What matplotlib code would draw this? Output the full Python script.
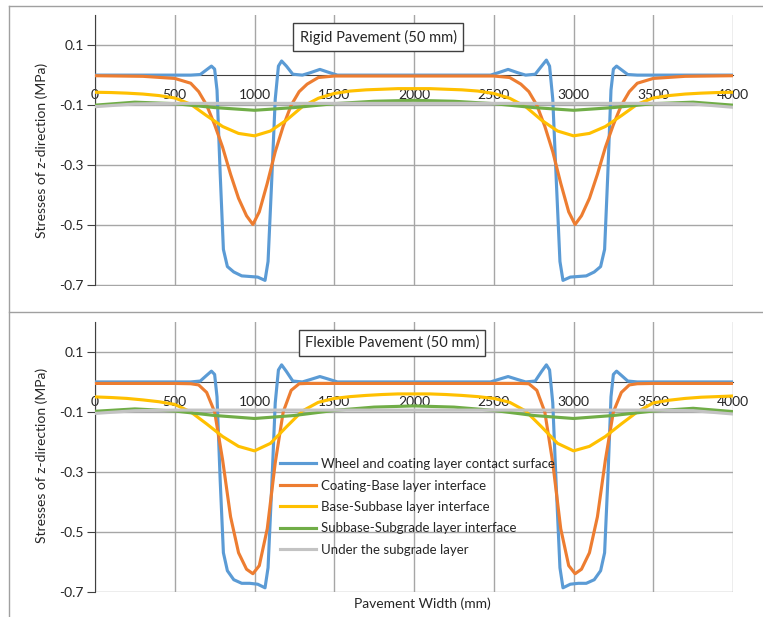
import matplotlib
matplotlib.use('Agg')
import matplotlib.pyplot as plt
from matplotlib.lines import Line2D

plt.rcParams['font.family'] = ['Lato', 'DejaVu Sans']

# pavement width positions (mm) and stresses (MPa)
x_blue = [0, 600, 660, 700, 730, 750, 765, 785, 805, 830, 870, 920, 970, 1020, 1066, 1085, 1108, 1130,
          1150, 1170, 1200, 1240, 1300, 1350, 1410, 1460, 1520, 2000, 2480, 2540, 2590, 2650, 2700, 2760,
          2800, 2830, 2850, 2870, 2892, 2915, 2934, 2980, 3030, 3080, 3130, 3170, 3195, 3215, 3235, 3250,
          3270, 3300, 3340, 3400, 4000]
rigid_blue = [0.0, 0.0, 0.002, 0.018, 0.03, 0.02, -0.05, -0.33, -0.58, -0.637, -0.655, -0.668, -0.67, -0.672,
              -0.683, -0.62, -0.35, -0.08, 0.03, 0.047, 0.03, 0.003, 0.0, 0.008, 0.019, 0.01, 0.0, 0.0,
              0.0, 0.01, 0.019, 0.008, 0.0, 0.003, 0.03, 0.05, 0.03, -0.08, -0.35, -0.62, -0.683, -0.672,
              -0.67, -0.668, -0.655, -0.637, -0.58, -0.33, -0.05, 0.02, 0.03, 0.018, 0.002, 0.0, 0.0]
flex_blue = [0.0, 0.0, 0.003, 0.022, 0.036, 0.025, -0.05, -0.33, -0.57, -0.63, -0.66, -0.672, -0.672, -0.675,
             -0.687, -0.62, -0.35, -0.07, 0.04, 0.057, 0.035, 0.003, 0.0, 0.008, 0.018, 0.01, 0.0, 0.0,
             0.0, 0.01, 0.018, 0.008, 0.0, 0.003, 0.035, 0.057, 0.04, -0.07, -0.35, -0.62, -0.687, -0.675,
             -0.672, -0.672, -0.66, -0.63, -0.57, -0.33, -0.05, 0.025, 0.036, 0.022, 0.003, 0.0, 0.0]

x_orange = [0, 300, 500, 600, 650, 700, 750, 800, 850, 900, 950, 990, 1030, 1080, 1130, 1180, 1230, 1280,
            1330, 1400, 1500, 2000, 2500, 2600, 2670, 2720, 2770, 2820, 2870, 2920, 2970, 3010, 3050, 3100,
            3150, 3200, 3250, 3300, 3350, 3400, 3500, 3700, 4000]
rigid_orange = [-0.002, -0.004, -0.011, -0.027, -0.055, -0.1, -0.165, -0.24, -0.33, -0.41, -0.468, -0.497,
                -0.455, -0.36, -0.255, -0.17, -0.1, -0.055, -0.03, -0.008, -0.003, -0.003,
                -0.003, -0.008, -0.03, -0.055, -0.1, -0.17, -0.255, -0.36, -0.455, -0.497, -0.468, -0.41,
                -0.33, -0.24, -0.165, -0.1, -0.055, -0.027, -0.011, -0.004, -0.002]
flex_orange = [-0.005, -0.005, -0.005, -0.006, -0.01, -0.035, -0.1, -0.26, -0.45, -0.57, -0.625, -0.64,
               -0.613, -0.49, -0.27, -0.1, -0.028, -0.006, -0.005, -0.005, -0.005, -0.005,
               -0.005, -0.005, -0.005, -0.006, -0.028, -0.1, -0.27, -0.49, -0.613, -0.64, -0.625, -0.57,
               -0.45, -0.26, -0.1, -0.035, -0.01, -0.006, -0.005, -0.005, -0.005]

x_yellow = [0, 100, 200, 300, 400, 500, 600, 700, 800, 900, 1000, 1100, 1200, 1300, 1400, 1500, 1600, 1700,
            1800, 1900, 2000, 2100, 2200, 2300, 2400, 2500, 2600, 2700, 2800, 2900, 3000, 3100, 3200, 3300,
            3400, 3500, 3600, 3700, 3800, 3900, 4000]
rigid_yellow = [-0.057, -0.058, -0.06, -0.063, -0.068, -0.076, -0.097, -0.135, -0.171, -0.194, -0.202,
                -0.186, -0.15, -0.105, -0.077, -0.061, -0.053, -0.049, -0.047, -0.045, -0.045,
                -0.045, -0.047, -0.049, -0.053, -0.061, -0.077, -0.105, -0.15, -0.186, -0.202,
                -0.194, -0.171, -0.135, -0.097, -0.076, -0.068, -0.063, -0.06, -0.058, -0.057]
flex_yellow = [-0.05, -0.052, -0.055, -0.06, -0.066, -0.075, -0.1, -0.14, -0.182, -0.215, -0.23,
               -0.205, -0.15, -0.097, -0.068, -0.055, -0.049, -0.045, -0.042, -0.04, -0.04,
               -0.04, -0.042, -0.045, -0.049, -0.055, -0.068, -0.097, -0.15, -0.205, -0.23,
               -0.215, -0.182, -0.14, -0.1, -0.07, -0.061, -0.055, -0.051, -0.049, -0.047]

x_green = [0, 250, 500, 750, 1000, 1250, 1500, 1750, 2000, 2250, 2500, 2750, 3000, 3250, 3500, 3750, 4000]
rigid_green = [-0.1, -0.09, -0.095, -0.108, -0.117, -0.108, -0.095, -0.087, -0.084, -0.087, -0.095, -0.108,
               -0.117, -0.108, -0.095, -0.09, -0.1]
flex_green = [-0.098, -0.09, -0.097, -0.112, -0.122, -0.112, -0.095, -0.084, -0.08, -0.084, -0.095, -0.112,
              -0.122, -0.112, -0.097, -0.088, -0.099]
rigid_gray = [-0.105, -0.096, -0.094, -0.094, -0.094, -0.094, -0.094, -0.094, -0.094, -0.094, -0.094, -0.094,
              -0.094, -0.094, -0.094, -0.096, -0.107]
flex_gray = [-0.105, -0.096, -0.094, -0.094, -0.094, -0.094, -0.094, -0.094, -0.094, -0.094, -0.094, -0.094,
             -0.094, -0.094, -0.094, -0.096, -0.107]

labels = ['Wheel and coating layer contact surface', 'Coating-Base layer interface',
          'Base-Subbase layer interface', 'Subbase-Subgrade layer interface', 'Under the subgrade layer']
colors = ['#5B9BD5', '#ED7D31', '#FFC000', '#70AD47', '#C3C3C3']
x_ticks = [0, 500, 1000, 1500, 2000, 2500, 3000, 3500, 4000]
y_ticks = [-0.7, -0.5, -0.3, -0.1, 0.1]
y_ticklabels = ['-0.7', '-0.5', '-0.3', '-0.1', '0.1']

W, H = 763, 617
fig = plt.figure(figsize=(W / 100, H / 100), dpi=100)


def panel(rect, series, title, title_xy):
  ax = fig.add_axes(rect)
  handles = []
  for (xs, ys), c, lab in zip(series, colors, labels):
    h, = ax.plot(xs, ys, color=c, lw=2.25, zorder=3, label=lab, solid_joinstyle='round')
    handles.append(h)
  ax.set_xlim(0, 4000)
  ax.set_ylim(-0.7, 0.2)
  ax.set_xticks(x_ticks)
  ax.set_xticklabels([str(t) for t in x_ticks])
  ax.set_yticks(y_ticks)
  ax.set_yticklabels(y_ticklabels)
  ax.grid(True, color='#A6A6A6', lw=1)
  ax.set_axisbelow(True)
  for s in ['top', 'right']:
    ax.spines[s].set_visible(False)
  ax.spines['bottom'].set_position(('data', 0))
  ax.spines['bottom'].set_color('#404040')
  ax.spines['left'].set_color('#404040')
  ax.tick_params(axis='x', length=0, pad=10, labelsize=10, labelcolor='#262626')
  ax.tick_params(axis='y', length=6, direction='out', color='#404040', pad=2, labelsize=10,
                 labelcolor='#262626')
  fig.text(title_xy[0] / W, 1 - title_xy[1] / H, title, ha='center', va='center', fontsize=10.5,
           color='#262626',
           bbox=dict(boxstyle='square,pad=0.42', fc='white', ec='#404040', lw=1))
  return ax, handles


ax1, _ = panel([95 / W, 1 - 285.5 / H, 638 / W, 270.5 / H],
               [(x_blue, rigid_blue), (x_orange, rigid_orange), (x_yellow, rigid_yellow),
                (x_green, rigid_green), (x_green, rigid_gray)],
               'Rigid Pavement (50 mm)', (378, 37))
ax2, handles = panel([95 / W, 1 - 591.7 / H, 638 / W, 269.7 / H],
                     [(x_blue, flex_blue), (x_orange, flex_orange), (x_yellow, flex_yellow),
                      (x_green, flex_green), (x_green, flex_gray)],
                     'Flexible Pavement (50 mm)', (392, 343))

ylab = 'Stresses of z-direction (MPa)'
fig.text(42 / W, 1 - 150 / H, ylab, rotation=90, ha='center', va='center', fontsize=10, color='#262626')
fig.text(42 / W, 1 - 455 / H, ylab, rotation=90, ha='center', va='center', fontsize=10, color='#262626')
fig.text(422 / W, 1 - 604 / H, 'Pavement Width (mm)', ha='center', va='center', fontsize=10,
         color='#262626')

fig.legend(handles, labels, loc='upper left', bbox_to_anchor=(280 / W, 1 - 458 / H), frameon=False,
           borderpad=0, borderaxespad=0, handlelength=2.7, handletextpad=0.38, labelspacing=0.72,
           fontsize=9.5, labelcolor='#262626')

# chart area borders
border = '#A0A0A0'
fig.add_artist(Line2D([8.5 / W, 8.5 / W], [0, 1 - 5.5 / H], transform=fig.transFigure, color=border, lw=1))
fig.add_artist(Line2D([8.5 / W, 1], [1 - 5.5 / H, 1 - 5.5 / H], transform=fig.transFigure, color=border, lw=1))
fig.add_artist(Line2D([8.5 / W, 1], [1 - 311.5 / H, 1 - 311.5 / H], transform=fig.transFigure, color=border, lw=1))

fig.savefig('out.png', dpi=100)
